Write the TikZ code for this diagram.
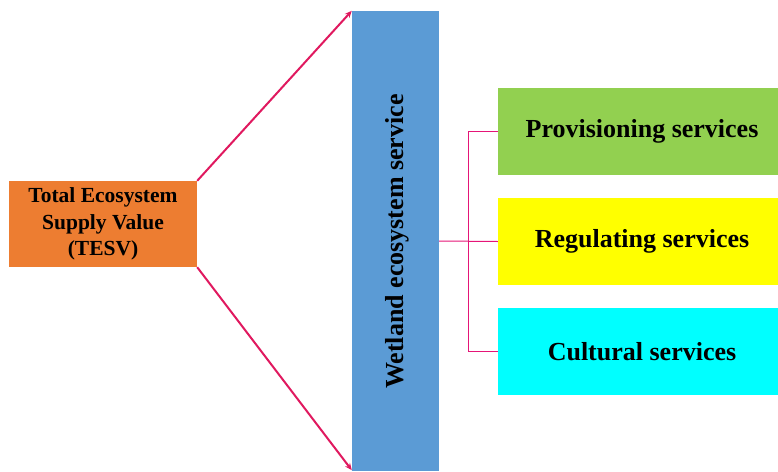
\documentclass[tikz,border=0pt]{standalone}
\usepackage{fontspec}
\setmainfont{Liberation Serif}
\usetikzlibrary{calc, arrows.meta}

\definecolor{tesvorange}{HTML}{ED7D31}
\definecolor{wetblue}{HTML}{5B9BD5}
\definecolor{provgreen}{HTML}{92D050}
\definecolor{regyellow}{HTML}{FFFF00}
\definecolor{cultcyan}{HTML}{00FFFF}
\definecolor{linkred}{HTML}{E0195F}

\begin{document}
\begin{tikzpicture}[x=1pt, y=-1pt,
	box/.style={draw=none, inner sep=0pt, align=center, font=\bfseries\fontsize{26}{30}\selectfont},
	link/.style={linkred, line width=2pt, -{Stealth[length=7pt, width=6pt]}},
	bracket/.style={linkred!85!magenta, line width=1pt}]

	% fix the page to the size of the reference
	\useasboundingbox (0,0) rectangle (778,471);
	\clip (0,0) rectangle (778,471);

	% the source box on the left
	\node[box, fill=tesvorange, minimum width=188pt, minimum height=86pt,
		font=\bfseries\fontsize{21.5}{26.5}\selectfont] (tesv) at (103,224)
		{Total Ecosystem\\Supply Value\\(TESV)};

	% the tall blue bar and its rotated label
	\node[box, fill=wetblue, minimum width=87pt, minimum height=460pt] (wetland) at (395.5,241) {};
	\node[box, rotate=90] (wetlabel) at (397,241.5) {Wetland ecosystem service};

	% the three kinds of service
	\node[box, fill=provgreen, minimum width=288pt, minimum height=87pt] (prov) at (642,131.5) {Provisioning services};
	\node[box, fill=regyellow, minimum width=288pt, minimum height=87pt] (regul) at (642,241.5) {Regulating services};
	\node[box, fill=cultcyan, minimum width=288pt, minimum height=87pt] (cult) at (642,351.5) {Cultural services};

	% arrows from the source to the bar
	\draw[link] (tesv.north east) -- (wetland.north west);
	\draw[link] (tesv.south east) -- ($(wetland.south west)+(0,-1)$);

	% bracket from the bar to the services
	\draw[bracket] (prov.west) -- ++(-29,0) coordinate (spine) |- (cult.west);
	\draw[bracket] (wetland.east) -- (regul.west);

\end{tikzpicture}
\end{document}
